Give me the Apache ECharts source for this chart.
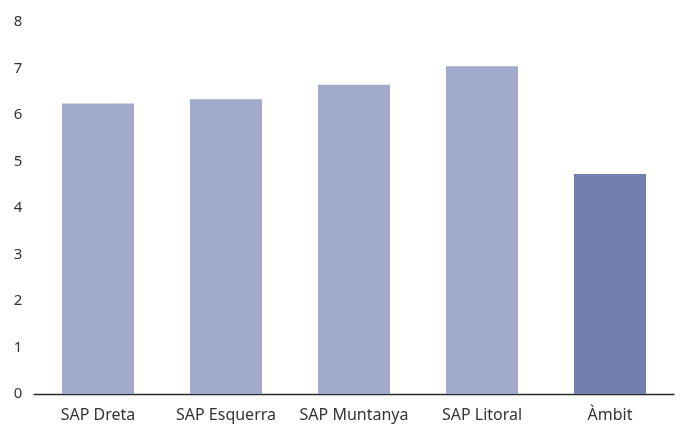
<!DOCTYPE html>
<html>
<head>
<meta charset="utf-8">
<script src="https://cdn.jsdelivr.net/npm/echarts@6/dist/echarts.min.js"></script>
<style>html,body{margin:0;padding:0;background:#fff}#c{width:682px;height:430px}</style>
</head>
<body>
<div id="c"></div>
<script>
var categories = ['SAP Dreta', 'SAP Esquerra', 'SAP Muntanya', 'SAP Litoral', 'Àmbit'];
var values = [6.25, 6.34, 6.65, 7.05, 4.73];
var yTicks = [0, 1, 2, 3, 4, 5, 6, 7, 8];

var chart = echarts.init(document.getElementById('c'), null, {renderer: 'canvas'});
chart.setOption({
  animation: false,
  backgroundColor: '#ffffff',
  grid: {left: 34, right: 8, top: 22, bottom: 36},
  xAxis: {
    type: 'category',
    data: categories,
    axisLine: {show: true, lineStyle: {color: '#2b2b2b', width: 1.3}},
    axisTick: {show: false},
    axisLabel: {interval: 0, color: '#333333', fontFamily: 'Noto Sans', fontSize: 16, margin: 13}
  },
  yAxis: {
    type: 'value',
    min: yTicks[0],
    max: yTicks[yTicks.length - 1],
    interval: 1,
    axisLine: {show: false},
    axisTick: {show: false},
    splitLine: {show: false},
    axisLabel: {color: '#333333', fontFamily: 'Noto Sans', fontSize: 15, margin: 16, align: 'center'}
  },
  series: [{
    type: 'bar',
    data: values,
    barWidth: 72,
    itemStyle: {
      color: function (p) { return p.dataIndex === categories.length - 1 ? '#7180ae' : '#a1aacb'; }
    }
  }]
});
</script>
</body>
</html>
